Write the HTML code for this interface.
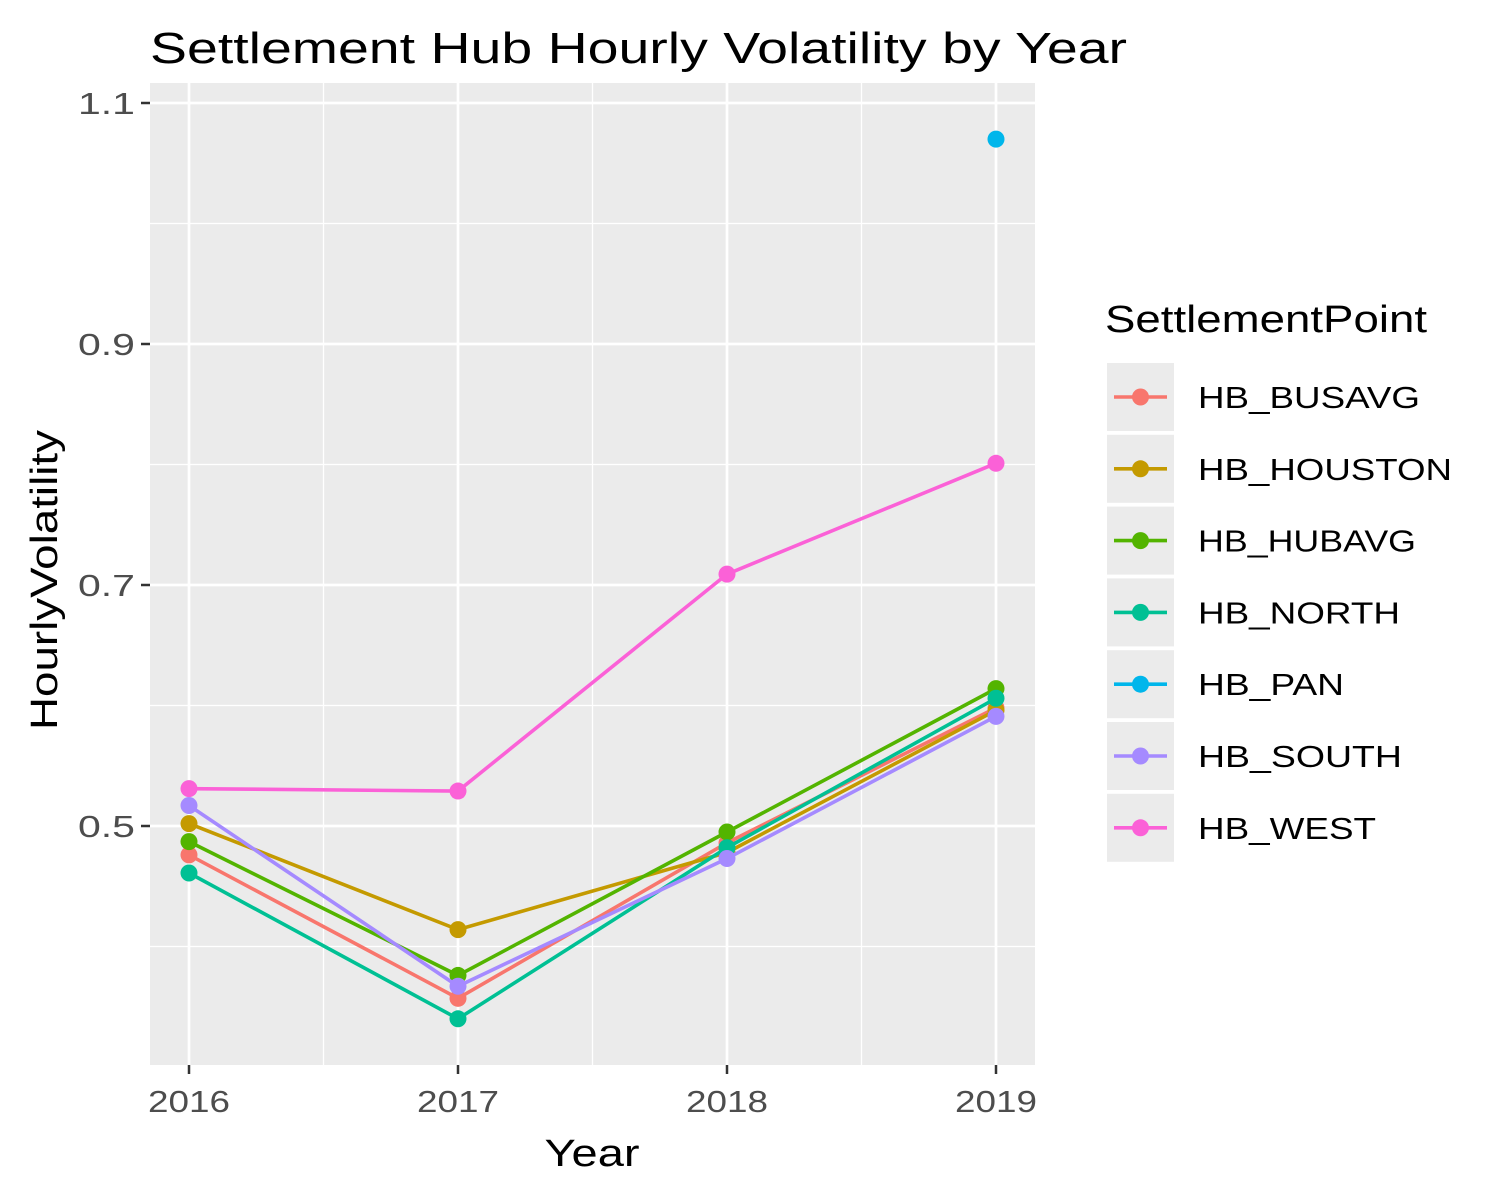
<!DOCTYPE html>
<html><head><meta charset="utf-8"><style>
body{margin:0;background:#fff}
svg{display:block;font-family:"Liberation Sans",Arial,sans-serif}
</style></head><body>
<svg id="chart" width="1500" height="1199">
<rect x="0" y="0" width="1500" height="1199" fill="#fff"/>
<text x="150" y="63" font-size="44" fill="#000" textLength="977" lengthAdjust="spacingAndGlyphs">Settlement Hub Hourly Volatility by Year</text>
<rect x="150" y="83" width="885" height="982" fill="#ebebeb"/>
<g id="grid"></g>
<g id="series"></g>
<g id="axes"></g>
<text x="592" y="1166" font-size="38" text-anchor="middle" fill="#000" textLength="95" lengthAdjust="spacingAndGlyphs">Year</text>
<text transform="translate(57,580) rotate(-90)" font-size="38" text-anchor="middle" fill="#000" textLength="300" lengthAdjust="spacingAndGlyphs">HourlyVolatility</text>
<text x="1105" y="332" font-size="38" fill="#000" textLength="322" lengthAdjust="spacingAndGlyphs">SettlementPoint</text>
<g id="legend"></g>
</svg>
<script>
const years = [2016, 2017, 2018, 2019];
const seriesNames = ["HB_BUSAVG","HB_HOUSTON","HB_HUBAVG","HB_NORTH","HB_PAN","HB_SOUTH","HB_WEST"];
const colors = ["#F8766D","#C49A00","#53B400","#00C094","#00B6EB","#A58AFF","#FB61D7"];
const busavg = [0.476, 0.357, 0.486, 0.598];
const houston = [0.502, 0.414, 0.478, 0.596];
const hubavg = [0.487, 0.376, 0.495, 0.614];
const north = [0.461, 0.340, 0.482, 0.606];
const pan = [null, null, null, 1.070];
const south = [0.517, 0.367, 0.473, 0.591];
const west = [0.531, 0.529, 0.709, 0.801];
const yTicks = [0.5, 0.7, 0.9, 1.1];
const yMinor = [0.4, 0.6, 0.8, 1.0];
const allSeries = [busavg, houston, hubavg, north, pan, south, west];

const NS = "http://www.w3.org/2000/svg";
const xS = yr => 189 + (yr - 2016) * 269;
const yS = v => 826 - (v - 0.5) * 1205;
function mk(tag, attrs, parent){const e=document.createElementNS(NS,tag);for(const k in attrs)e.setAttribute(k,attrs[k]);parent.appendChild(e);return e;}
const grid=document.getElementById('grid'), ser=document.getElementById('series'), ax=document.getElementById('axes'), leg=document.getElementById('legend');

yMinor.forEach(v=>{const l=mk('line',{x1:150,x2:1035,y1:yS(v),y2:yS(v),stroke:'#fff','stroke-width':1.3},grid);

});
for(let i=0;i<years.length-1;i++){const x=(xS(years[i])+xS(years[i+1]))/2;const l=mk('line',{x1:x,x2:x,y1:83,y2:1065,stroke:'#fff','stroke-width':1.3},grid);

}
yTicks.forEach(v=>{const l=mk('line',{x1:150,x2:1035,y1:yS(v),y2:yS(v),stroke:'#fff','stroke-width':2.7},grid);


const t=mk('line',{x1:141,x2:150,y1:yS(v),y2:yS(v),stroke:'#333','stroke-width':2.5},ax);


const tx=mk('text',{x:135,y:yS(v)+11,'font-size':31,fill:'#4d4d4d','text-anchor':'end',textLength:57,lengthAdjust:'spacingAndGlyphs'},ax);tx.textContent=v.toFixed(1);

});
years.forEach(yr=>{const l=mk('line',{x1:xS(yr),x2:xS(yr),y1:83,y2:1065,stroke:'#fff','stroke-width':2.7},grid);


const t=mk('line',{x1:xS(yr),x2:xS(yr),y1:1065,y2:1074,stroke:'#333','stroke-width':2.5},ax);


const tx=mk('text',{x:xS(yr),y:1112,'font-size':31,fill:'#4d4d4d','text-anchor':'middle',textLength:82,lengthAdjust:'spacingAndGlyphs'},ax);tx.textContent=yr;

});

allSeries.forEach((vals,si)=>{
  const pts=[];vals.forEach((v,i)=>{if(v!==null)pts.push([xS(years[i]),yS(v)]);});
  if(pts.length>1){const p=mk('polyline',{points:pts.map(p=>p.join(',')).join(' '),fill:'none',stroke:colors[si],'stroke-width':3.6},ser);
  
  }
  pts.forEach(p=>{const c=mk('circle',{cx:p[0],cy:p[1],r:8.5,fill:colors[si]},ser);
  
  });
});

const legendWidths = [222, 254, 218, 202, 146, 204, 178];
seriesNames.forEach((n,i)=>{const cy=397+i*71.8;
  const g=mk('g',{},leg);
  
  
  mk('rect',{x:1107,y:cy-34,width:67,height:68,fill:'#ebebeb'},g);
  mk('line',{x1:1114,x2:1167,y1:cy,y2:cy,stroke:colors[i],'stroke-width':3.6},g);
  mk('circle',{cx:1140.5,cy:cy,r:8.5,fill:colors[i]},g);
  const t=mk('text',{x:1198,y:cy+11,'font-size':31,fill:'#000',textLength:legendWidths[i],lengthAdjust:'spacingAndGlyphs'},g);t.textContent=n;
});
</script>
</body></html>
